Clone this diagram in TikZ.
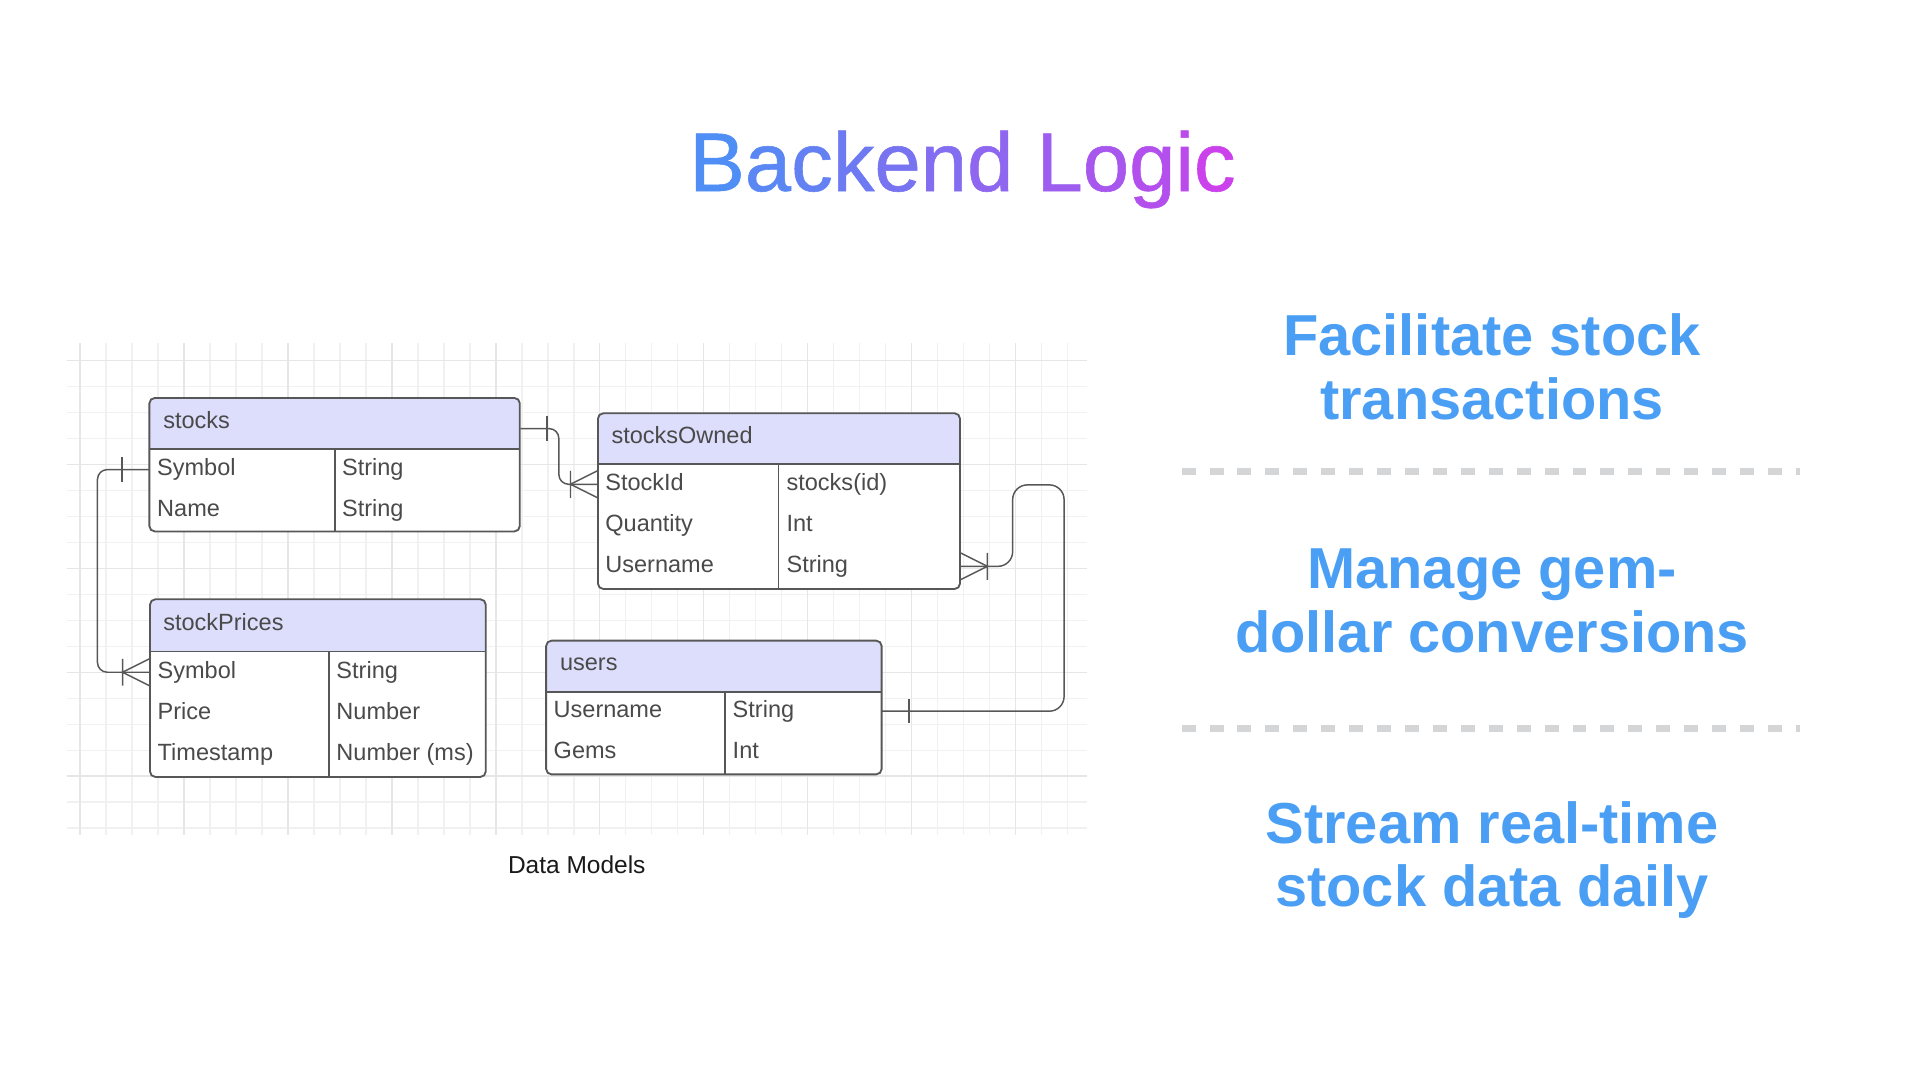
\documentclass[tikz,border=0pt]{standalone}
\usepackage{fontspec}
\setmainfont{Liberation Sans}
\newfontfamily\titlefont[FakeBold=0.7]{Liberation Sans}
\usetikzlibrary{calc,fit}

\definecolor{gradB}{HTML}{4A90F5}
\definecolor{gradM}{HTML}{D63AEA}
\definecolor{pointblue}{HTML}{4A9FF5}
\definecolor{sepgray}{HTML}{D3D5D6}
\definecolor{hdrfill}{HTML}{DDDEFC}
\definecolor{tblgray}{HTML}{575757}
\definecolor{txtgray}{HTML}{4A4A4A}
\definecolor{gridminor}{HTML}{F1F1F1}
\definecolor{gridmajor}{HTML}{E6E6E6}

% one letter of the title, blended from blue to magenta
\newcommand{\gl}[2]{\textcolor{gradB!#1!gradM}{#2}}

% table frame: name, left, top, right, header bottom, bottom, divider
\newcommand{\erbox}[7]{%
  \node[fit={(#2,#3)(#4,#6)}, inner sep=0pt] (#1) {};
  \begin{scope}
    \clip[rounded corners=2.2pt] (#2,#3) rectangle (#4,#6);
    \fill[white] (#2,#3) rectangle (#4,#6);
    \fill[hdrfill] (#2,#3) rectangle (#4,#5);
  \end{scope}
  \draw[tblline, rounded corners=2.2pt] (#2,#3) rectangle (#4,#6);
  \draw[tblline] (#2,#5) -- (#4,#5) (#7,#5) -- (#7,#6);
}

\tikzset{
  tblline/.style={draw=tblgray, line width=0.75pt},
  conn/.style={draw=tblgray, line width=0.6pt},
  fld/.style={text=txtgray, font=\fontsize{9.6}{11}\selectfont, inner sep=0pt,
    anchor=base west, text height=7pt, text depth=2pt},
  pointtxt/.style={text=pointblue, font=\fontsize{23.6}{28}\selectfont\bfseries,
    inner sep=0pt, anchor=base},
  sepline/.style={draw=sepgray, line width=3pt, dash pattern=on 5.7pt off 5.7pt},
  crowfoot/.pic={\draw[conn] (0,-11) -- (-22,0) -- (0,11) (-22,-11) -- (-22,11);},
  onetick/.pic={\draw[conn] (0,-10) -- (0,10);}
}

\begin{document}
\begin{tikzpicture}[x=0.5pt,y=-0.5pt]
  \useasboundingbox (0,0) rectangle (1568,882);

  % background grid
  \foreach \i in {0,...,38}
    \draw[gridminor, line width=0.5pt] (65.3+21.23*\i,280) -- (65.3+21.23*\i,682);
  \foreach \j in {0,...,18}
    \draw[gridminor, line width=0.5pt] (54.5,294.6+21.2*\j) -- (888,294.6+21.2*\j);
  \foreach \i in {0,4,...,36}
    \draw[gridmajor, line width=0.5pt] (65.3+21.23*\i,280) -- (65.3+21.23*\i,682);
  \foreach \j in {0,4,...,16}
    \draw[gridmajor, line width=0.5pt] (54.5,294.6+21.2*\j) -- (888,294.6+21.2*\j);

  % title
  \node[inner sep=0pt, anchor=base, font=\titlefont\fontsize{34}{40}\selectfont] (title) at (786,156)
    {\gl{97}{B}\gl{89}{a}\gl{82}{c}\gl{75}{k}\gl{67}{e}\gl{59}{n}\gl{51}{d} \gl{41}{L}\gl{34}{o}\gl{25}{g}\gl{19}{i}\gl{8}{c}};

  % stocks
  \erbox{stocks}{122}{325}{424.5}{367}{434}{273.3}
  \node[fld] (stocks-t) at (133,350) {stocks};
  \node[fld] (stocks-f1) at (128,388.5) {Symbol};
  \node[fld] (stocks-v1) at (279,388.5) {String};
  \node[fld] (stocks-f2) at (128,422) {Name};
  \node[fld] (stocks-v2) at (279,422) {String};

  % stocksOwned
  \erbox{owned}{488.3}{337.5}{784}{379.2}{481}{635.8}
  \node[fld] (owned-t) at (499,362) {stocksOwned};
  \node[fld] (owned-f1) at (494,400.5) {StockId};
  \node[fld] (owned-v1) at (642,400.5) {stocks(id)};
  \node[fld] (owned-f2) at (494,434) {Quantity};
  \node[fld] (owned-v2) at (642,434) {Int};
  \node[fld] (owned-f3) at (494,467.5) {Username};
  \node[fld] (owned-v3) at (642,467.5) {String};

  % stockPrices
  \erbox{prices}{122.5}{489.4}{396.7}{532}{634.5}{268.4}
  \node[fld] (prices-t) at (133,515) {stockPrices};
  \node[fld] (prices-f1) at (128.4,554) {Symbol};
  \node[fld] (prices-v1) at (274.4,554) {String};
  \node[fld] (prices-f2) at (128.4,587.5) {Price};
  \node[fld] (prices-v2) at (274.4,587.5) {Number};
  \node[fld] (prices-f3) at (128.4,621) {Timestamp};
  \node[fld] (prices-v3) at (274.4,621) {Number (ms)};

  % users
  \erbox{users}{446}{523.2}{720}{565.1}{632.4}{592.1}
  \node[fld] (users-t) at (457,547.7) {users};
  \node[fld] (users-f1) at (451.8,585.8) {Username};
  \node[fld] (users-v1) at (598,585.8) {String};
  \node[fld] (users-f2) at (451.8,619.3) {Gems};
  \node[fld] (users-v2) at (598,619.3) {Int};

  % relations
  \draw[conn, rounded corners=4pt] (stocks.east |- stocks-t.base) -- ++(31.5,0) |- (owned.west |- owned-f1);
  \pic at ($(stocks.east |- stocks-t.base)+(22,0)$) {onetick};
  \pic at (owned.west |- owned-f1) {crowfoot};

  \draw[conn, rounded corners=4pt] (stocks.west |- stocks-f1) -- ++(-42,0) |- (prices.west |- prices-f1);
  \pic at ($(stocks.west |- stocks-f1)+(-22,0)$) {onetick};
  \pic at (prices.west |- prices-f1) {crowfoot};

  \draw[conn, rounded corners=6pt] (users.east |- users-f1) -| (869,396) -| (827,462.5) -- (owned.east |- owned-f3);
  \pic at ($(users.east |- users-f1)+(22,0)$) {onetick};
  \pic[xscale=-1] at (owned.east |- owned-f3) {crowfoot};

  \node[inner sep=0pt, anchor=base, text=black!90, font=\fontsize{10}{12}\selectfont] (caption) at (471,713) {Data Models};

  % key points
  \node[pointtxt] (pt1a) at (1218.5,290) {Facilitate stock};
  \node[pointtxt] (pt1b) at (1218.5,342.2) {transactions};
  \draw[sepline] (965,385) -- (1470,385);
  \node[pointtxt] (pt2a) at (1218.5,481) {Manage gem-};
  \node[pointtxt] (pt2b) at (1218.5,533) {dollar conversions};
  \draw[sepline] (965,595) -- (1470,595);
  \node[pointtxt] (pt3a) at (1218.5,688.7) {Stream real-time};
  \node[pointtxt] (pt3b) at (1218.5,740.4) {stock data daily};
\end{tikzpicture}
\end{document}
